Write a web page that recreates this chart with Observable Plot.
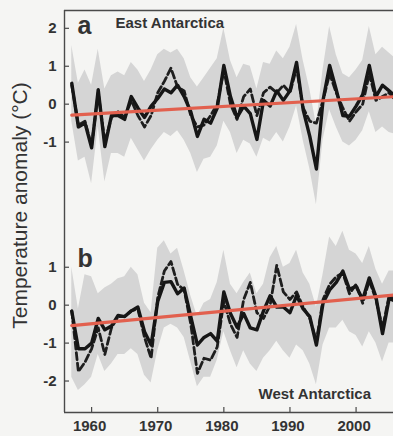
<!DOCTYPE html>
<html><head><meta charset="utf-8">
<script src="https://cdn.jsdelivr.net/npm/d3@7"></script>
<script src="https://cdn.jsdelivr.net/npm/@observablehq/plot@0.6"></script>
<style>
html,body{margin:0;padding:0;background:#f5f5f3;}
#chart svg{display:block;}
</style></head><body><div id="chart"></div>
<script>
// ---- data ----
const years = [1957,1958,1959,1960,1961,1962,1963,1964,1965,1966,1967,1968,1969,1970,1971,1972,1973,1974,1975,1976,1977,1978,1979,1980,1981,1982,1983,1984,1985,1986,1987,1988,1989,1990,1991,1992,1993,1994,1995,1996,1997,1998,1999,2000,2001,2002,2003,2004,2005,2006];

const panels = ["a", "b"];
const panelNames = ["East Antarctica", "West Antarctica"];

// East Antarctica
const eastSolid  = [0.55,-0.6,-0.5,-1.15,0.38,-1.12,-0.3,-0.3,-0.4,0.2,-0.1,-0.35,-0.05,0.15,0.4,0.3,0.5,0.2,-0.2,-0.85,-0.4,-0.5,-0.1,1.02,0.2,-0.35,-0.05,-0.25,-0.93,0.1,-0.05,0.35,0.1,0.35,1.1,-0.15,-0.85,-1.71,0.1,1.02,0.38,-0.3,-0.32,-0.05,0.25,1.02,0.2,0.5,0.35,0.2];
const eastDashed = [0.5,-0.55,-0.45,-1.1,0.3,-1.0,-0.35,-0.2,-0.35,0.1,-0.3,-0.6,-0.3,0.3,0.6,0.95,0.45,0.35,-0.3,-0.6,-0.55,-0.3,0.0,0.9,0.0,-0.4,0.2,0.4,-0.3,0.3,0.45,0.3,0.5,0.3,0.95,-0.1,-0.45,-0.5,0.1,0.8,0.3,-0.1,-0.45,-0.2,0.0,0.8,0.1,0.2,0.3,0.1];
const eastHi     = [1.55,0.55,0.9,0.5,1.45,0.4,0.75,0.85,0.75,1.1,0.9,0.6,0.9,1.3,1.45,1.35,1.45,1.2,0.7,0.45,0.7,0.95,1.2,2.0,1.15,0.7,1.05,1.0,0.4,1.1,1.05,1.4,1.2,1.5,2.1,1.15,0.4,-0.55,0.9,2.05,1.3,0.8,0.7,0.9,1.15,2.05,1.3,1.5,1.35,1.2];
const eastLo     = [-0.45,-1.5,-1.4,-2.1,-0.6,-2.05,-1.3,-1.3,-1.4,-0.9,-1.2,-1.5,-1.2,-0.95,-0.75,-0.85,-0.7,-0.95,-1.3,-1.8,-1.45,-1.4,-1.1,-0.45,-0.75,-1.3,-0.95,-1.05,-1.4,-0.9,-1.0,-0.75,-1.0,-0.6,-0.05,-0.95,-1.7,-2.65,-0.95,-0.15,-0.6,-1.0,-1.1,-0.95,-0.7,-0.2,-0.75,-0.6,-0.75,-0.8];

// West Antarctica
const westSolid  = [-0.16,-1.15,-1.15,-1.0,-0.35,-0.65,-0.55,-0.27,-0.3,-0.15,-0.05,-0.7,-1.05,0.1,0.6,0.62,0.3,0.45,-0.3,-1.05,-0.85,-0.75,-0.95,0.35,-0.22,-0.58,-0.22,-0.6,-0.65,-0.15,0.25,-0.05,-0.05,-0.2,0.25,-0.1,-0.3,-1.05,0.05,0.4,0.6,0.9,0.42,0.5,0.15,0.72,0.22,-0.75,0.18,0.1];
const westDashed = [-0.15,-1.75,-1.5,-1.15,-0.6,-1.3,-0.6,-0.3,-0.3,-0.15,-0.1,-0.85,-1.4,0.2,0.9,1.15,0.55,0.4,-0.5,-1.8,-1.4,-1.45,-1.1,0.1,-0.5,-0.85,0.15,0.6,-0.2,-0.35,0.0,1.05,0.35,0.15,0.35,-0.05,-0.35,-0.95,0.15,0.55,0.75,0.85,0.3,0.55,0.05,0.65,0.15,-0.6,0.25,0.15];
const westHi     = [1.0,-0.1,0.8,0.75,0.3,0.45,0.55,0.7,0.75,1.0,0.8,0.05,-0.2,1.5,1.7,1.35,1.5,0.9,0.25,-0.3,0.05,0.15,0.6,1.45,0.55,0.3,0.6,0.85,0.3,0.55,1.25,1.55,1.0,1.1,1.45,0.85,0.55,-0.05,0.8,1.8,1.55,1.95,1.45,1.35,1.1,1.55,0.95,0.55,0.9,0.9];
const westLo     = [-1.9,-2.25,-2.1,-1.9,-1.3,-1.75,-1.55,-1.3,-1.3,-1.15,-1.3,-1.85,-2.05,-1.2,-0.6,-0.5,-0.6,-0.85,-1.5,-2.15,-1.9,-1.9,-1.45,-0.7,-1.2,-1.65,-1.2,-1.55,-1.75,-1.4,-1.2,-0.95,-1.2,-1.4,-1.05,-1.2,-1.55,-2.1,-1.05,-0.6,-0.6,-0.4,-0.7,-0.8,-1.1,-0.7,-1.0,-1.5,-1.0,-1.0];

// linear trends (end points)
const trendYears = [1957, 2006];
const eastTrend = [-0.29, 0.2];
const westTrend = [-0.54, 0.27];

// axes
const xTicks = [1960, 1970, 1980, 1990, 2000];
const eastYTicks = [2, 1, 0, -1];
const westYTicks = [1, 0, -1, -2];
const xDomain = [1955.9, 2005.66];
const yDomain = [-2.83, 2.47];
const yLabel = "Temperature anomaly (°C)";

// ---- tables ----
const series = {a: [eastSolid, eastDashed, eastLo, eastHi], b: [westSolid, westDashed, westLo, westHi]};
const rows = [];
for (const p of panels) {
  const [s, d, lo, hi] = series[p];
  years.forEach((yr, i) => rows.push({panel: p, year: yr, solid: s[i], dashed: d[i], lo: lo[i], hi: hi[i]}));
}
const trendRows = [];
trendYears.forEach((yr, i) => {
  trendRows.push({panel: "a", year: yr, v: eastTrend[i]});
  trendRows.push({panel: "b", year: yr, v: westTrend[i]});
});
const yTickRows = [
  ...eastYTicks.map(v => ({panel: "a", v})),
  ...westYTicks.map(v => ({panel: "b", v}))
];

const ink = "#333";
const axisInk = "#4a4a4a";
const font = "'Liberation Sans', Arial, Helvetica, sans-serif";

const chart = Plot.plot({
  width: 393,
  height: 436,
  marginLeft: 64,
  marginRight: 0,
  marginTop: 10,
  marginBottom: 24,
  style: {background: "#f5f5f3", fontFamily: font, overflow: "visible"},
  x: {domain: xDomain, axis: null},
  y: {domain: yDomain, axis: null},
  fy: {domain: panels, padding: 0, axis: null},
  marks: [
    Plot.areaY(rows, {x: "year", y1: "lo", y2: "hi", fy: "panel", fill: "#d5d5d5", clip: true}),
    Plot.line(rows, {x: "year", y: "dashed", fy: "panel", stroke: "#1e1e1e", strokeWidth: 2.8, strokeDasharray: "7,3.5", strokeLinejoin: "round", clip: true}),
    Plot.line(rows, {x: "year", y: "solid", fy: "panel", stroke: "#161616", strokeWidth: 3.4, strokeLinejoin: "round", clip: true}),
    Plot.line(trendRows, {x: "year", y: "v", fy: "panel", stroke: "#e2604e", strokeWidth: 3.2, clip: true}),
    // frame
    Plot.ruleX([xDomain[0]], {x: d => d, stroke: axisInk, strokeWidth: 1.4}),
    Plot.ruleY([yDomain[1]], {y: d => d, fy: () => "a", stroke: axisInk, strokeWidth: 1.4}),
    Plot.ruleY([yDomain[0]], {y: d => d, fy: () => "b", stroke: axisInk, strokeWidth: 1.4}),
    // y ticks (inward) and labels
    Plot.ruleY(yTickRows, {y: "v", fy: "panel", x1: xDomain[0], x2: xDomain[0], insetRight: -5, stroke: axisInk, strokeWidth: 1.2}),
    Plot.text(yTickRows, {y: "v", fy: "panel", x: xDomain[0], text: d => String(d.v), textAnchor: "end", dx: -8, fontSize: 15, fontWeight: "bold", fill: ink}),
    // x ticks (inward) and labels
    Plot.ruleX(xTicks, {x: d => d, fy: () => "b", y1: yDomain[0], y2: yDomain[0], insetTop: -5, stroke: axisInk, strokeWidth: 1.2}),
    Plot.text(xTicks, {x: d => d, fy: () => "b", y: yDomain[0], text: d => String(d), lineAnchor: "top", dy: 8, dx: -2, fontSize: 15, fontWeight: "bold", fill: ink}),
    // panel letters and names
    Plot.text([panels[0]], {fy: () => "a", text: d => d, frameAnchor: "top-left", textAnchor: "start", lineAnchor: "bottom", dx: 13, dy: 23, fontSize: 25, fontWeight: "bold", fill: ink}),
    Plot.text([panels[1]], {fy: () => "b", text: d => d, frameAnchor: "top-left", textAnchor: "start", lineAnchor: "bottom", dx: 13, dy: 55, fontSize: 25, fontWeight: "bold", fill: ink}),
    Plot.text([panelNames[0]], {fy: () => "a", text: d => d, frameAnchor: "top-left", textAnchor: "start", lineAnchor: "bottom", dx: 51, dy: 17, fontSize: 15, fontWeight: "bold", fill: ink}),
    Plot.text([panelNames[1]], {fy: () => "b", text: d => d, frameAnchor: "bottom-left", textAnchor: "start", lineAnchor: "bottom", dx: 194, dy: -14, fontSize: 15, fontWeight: "bold", fill: ink}),
    // y axis title
    Plot.text([yLabel], {fy: () => "a", text: d => d, frameAnchor: "bottom-left", rotate: -90, textAnchor: "middle", lineAnchor: "middle", dx: -44, dy: -6, fontSize: 21, fill: ink})
  ]
});
document.getElementById("chart").appendChild(chart);
</script>
</body></html>
